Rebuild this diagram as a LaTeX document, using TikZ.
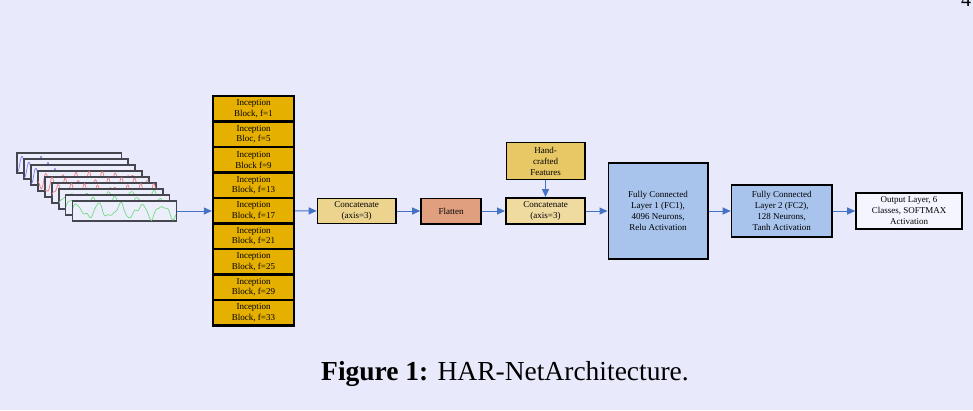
\documentclass[tikz,border=0pt]{standalone}
\usepackage{fontspec}
\setmainfont{Liberation Serif}
\usetikzlibrary{arrows.meta,fit}

\definecolor{pagebg}{RGB}{232,234,252}
\definecolor{incgold}{RGB}{230,176,0}
\definecolor{concatgold}{RGB}{236,212,142}
\definecolor{handgold}{RGB}{232,200,100}
\definecolor{flatsalmon}{RGB}{224,160,128}
\definecolor{fcblue}{RGB}{168,196,236}
\definecolor{outwhite}{RGB}{245,245,255}
\definecolor{flowblue}{RGB}{68,114,196}
\definecolor{sigfill}{RGB}{236,238,252}
\definecolor{sigedge}{RGB}{70,70,80}
\definecolor{wblue}{RGB}{125,125,240}
\definecolor{wred}{RGB}{238,125,125}
\definecolor{wgreen}{RGB}{115,218,125}

\tikzset{
  blockbox/.style={draw=black, line width=1.4pt, fill=incgold, minimum width=79.6pt,
    minimum height=24.1pt, inner sep=0pt, align=center, font=\fontsize{9}{10.7}\selectfont},
  layerbox/.style={draw=black, line width=1.6pt, inner sep=0pt, align=center,
    font=\fontsize{9}{11}\selectfont},
  sigframe/.style={draw=sigedge, line width=1.1pt, fill=sigfill, minimum width=103.5pt,
    minimum height=19.5pt, inner sep=0pt, anchor=north west},
  flowarrow/.style={draw=flowblue, line width=1pt, -{Triangle[length=8pt,width=7pt]}}
}

\begin{document}
\begin{tikzpicture}[x=1pt, y=-1pt,
    declare function={bump(\t,\a,\w)=max(0,1-((\t-\a)/\w)*((\t-\a)/\w))^2;}]
    \fill[pagebg] (0,0) rectangle (973,410);
    \useasboundingbox (0,0) rectangle (973,410);

    % --- input signals, back to front ---
    \foreach \i in {1,...,9} {
        \node[sigframe] (sig\i) at ({17+6.9*(\i-1)}, {152.7+6*(\i-1)}) {};
        \begin{scope}
            \clip (sig\i.south west) rectangle (sig\i.north east);
            \begin{scope}[shift={(sig\i.north west)}]
                \ifnum\i<4
                    \draw[wblue, line width=0.7pt] plot[domain=0:104, samples=160, smooth]
                        (\x, {18.5-15*bump(\x,5,4)-15*bump(\x,24,3.2)-12*bump(\x,53,3.2)-13*bump(\x,81,3.2)});
                \else\ifnum\i<7
                    \draw[wred, line width=0.7pt] plot[domain=0:104, samples=130, smooth]
                        (\x, {10-6.5*sin(26*\x+50*\i)-3*sin(57*\x+30)});
                \else
                    \draw[wgreen, line width=0.7pt] plot[domain=0:104, samples=130, smooth]
                        (\x, {10.5-6*sin(17*\x+40*\i)-2.5*sin(31*\x)-1*sin(53*\x+20)});
                \fi\fi
            \end{scope}
        \end{scope}
        \draw[sigedge, line width=1.1pt] (sig\i.south west) rectangle (sig\i.north east);
    }

    % --- inception blocks ---
    \foreach \lbl [count=\i] in {{Block, f=1},{Bloc, f=5},{Block f=9},{Block, f=13},{Block, f=17},
        {Block, f=21},{Block, f=25},{Block, f=29},{Block, f=33}}
        \node[blockbox] (inc\i) at (253.5, {96+25.5*(\i-0.5)}) {Inception\\\lbl};
    \node[fit=(inc1)(inc9), draw, line width=2.2pt, inner sep=0pt] (stack) {};

    % --- layers ---
    \node[layerbox, fill=concatgold, minimum width=78.4pt, minimum height=25pt] (concat1) at (356.7,211) {Concatenate\\(axis=3)};
    \node[layerbox, fill=flatsalmon, minimum width=60pt, minimum height=25.4pt] (flatten) at (451,211) {Flatten};
    \node[layerbox, fill=concatgold!85!white, minimum width=79.4pt, minimum height=26.4pt] (concat2) at (545.5,211) {Concatenate\\(axis=3)};
    \node[layerbox, fill=handgold, minimum width=78.4pt, minimum height=36.7pt] (hand) at (545.5,161) {Hand-\\crafted\\Features};
    \node[layerbox, fill=fcblue, minimum width=99.4pt, minimum height=96pt] (fc1) at (658,211) {Fully Connected\\Layer 1 (FC1),\\4096 Neurons,\\Relu Activation};
    \node[layerbox, fill=fcblue, minimum width=100.4pt, minimum height=52.4pt] (fc2) at (781.7,211) {Fully Connected\\Layer 2 (FC2),\\128 Neurons,\\Tanh Activation};
    \node[layerbox, fill=outwhite, minimum width=106pt, minimum height=36pt] (output) at (909,211) {Output Layer, 6\\Classes, SOFTMAX\\Activation};

    % --- connectors ---
    \draw[flowarrow] (sig9) -- (sig9 -| stack.west);
    \draw[flowarrow] (stack) -- (concat1);
    \draw[flowarrow] (concat1) -- (flatten);
    \draw[flowarrow] (flatten) -- (concat2);
    \draw[flowarrow] (hand) -- (concat2);
    \draw[flowarrow] (concat2) -- (fc1);
    \draw[flowarrow] (fc1) -- (fc2);
    \draw[flowarrow] (fc2) -- (output);

    % --- caption ---
    \node[anchor=base, inner sep=0pt] (caption) at (505,380) {\fontsize{27.5}{30}\selectfont\textbf{Figure 1:} HAR-NetArchitecture.};
    \node[anchor=base west, inner sep=0pt, font=\fontsize{20}{20}\selectfont] (pagenum) at (961,6) {4};
\end{tikzpicture}
\end{document}
